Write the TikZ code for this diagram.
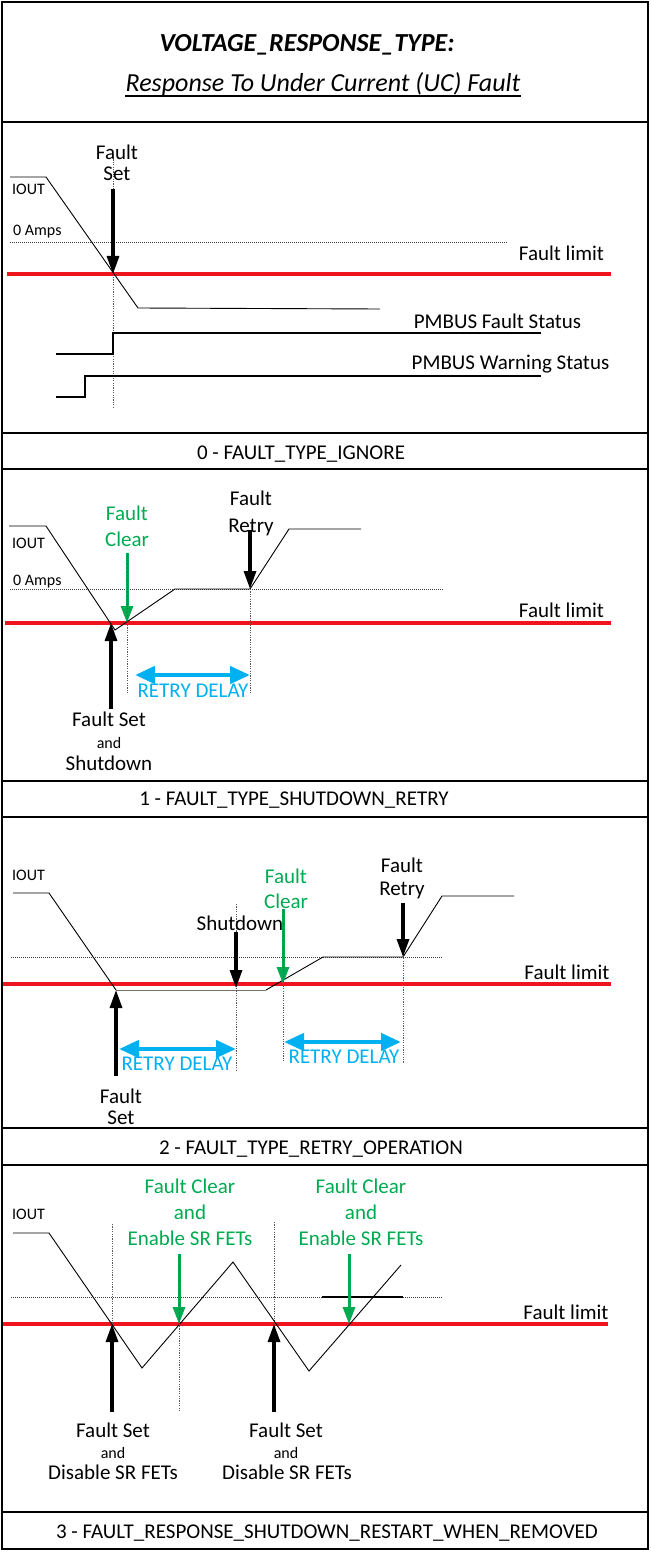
\documentclass[tikz,border=0pt]{standalone}
\usepackage{fontspec}
\setmainfont{Carlito}
\usetikzlibrary{arrows.meta}
\definecolor{limitred}{RGB}{240,20,30}
\definecolor{clrgreen}{RGB}{0,170,80}
\definecolor{delaycyan}{RGB}{0,176,240}
\begin{document}
\begin{tikzpicture}[x=1pt,y=-1pt,
  frame/.style={line width=2.4pt},
  limitline/.style={draw=limitred,line width=3.2pt},
  wave/.style={line width=0.9pt},
  zeroline/.style={line width=0.9pt,dash pattern=on 1pt off 1pt,draw=black!75},
  guide/.style={line width=0.8pt,dash pattern=on 1.2pt off 1.2pt,draw=black!65},
  statusline/.style={line width=1.8pt},
  evtarrow/.style={line width=3.2pt,-{Triangle[length=18pt,width=12pt]}},
  clrarrow/.style={line width=3pt,draw=clrgreen,-{Triangle[length=17pt,width=12pt]}},
  delayarrow/.style={line width=4.5pt,draw=delaycyan,{Triangle[length=20pt,width=17pt]}-{Triangle[length=20pt,width=17pt]}},
  lbl/.style={font=\fontsize{21}{25}\selectfont,inner sep=0pt,anchor=base},
  sml/.style={font=\fontsize{16}{19}\selectfont,inner sep=0pt,anchor=base},
  grn/.style={lbl,text=clrgreen},
  cyn/.style={lbl,text=delaycyan},
]
\useasboundingbox (0,0) rectangle (650,1554);

% ---------------- frame ----------------
\draw[frame] (2,2) rectangle (648,1549);
\foreach \yy in {122,433,469,781,817,1128,1165,1512}
  \draw[frame] (2,\yy) -- (648,\yy);

% ---------------- title ----------------
\node[lbl,font=\fontsize{26}{30}\selectfont\bfseries\itshape] (title) at (307,52) {VOLTAGE\_RESPONSE\_TYPE:};
\node[lbl,font=\fontsize{26}{30}\selectfont\itshape] (subtitle) at (323,92) {Response To Under Current (UC) Fault};
\draw[line width=1.2pt] ([yshift=-4pt]subtitle.base west) -- ([yshift=-4pt]subtitle.base east);

% ---------------- panel 0 ----------------
\coordinate (p0la) at (7,274);   \coordinate (p0lb) at (611,274);
\draw[limitline] (p0la) -- (p0lb);
\coordinate (p0za) at (10,242);  \coordinate (p0zb) at (507,242);
\draw[zeroline] (p0za) -- (p0zb);
\coordinate (p0ga) at (113,157); \coordinate (p0gb) at (113,407);
\draw[guide] (p0ga) -- (p0gb);
\draw[wave] (10,177) -- (46,177) -- (138,308) -- (380,309);
\draw[statusline] (56,354) -- (113,354) -- (113,333) -- (541,333);
\draw[statusline] (56,397) -- (85,397) -- (85,376) -- (541,376);
\node[sml,anchor=base west] (p0iout) at (12,195) {IOUT};
\node[sml,anchor=base west] (p0amps) at (13,236) {0 Amps};
\node[lbl] (p0fs1) at (117,160) {Fault};
\node[lbl] (p0fs2) at (117,181) {Set};
\coordinate (p0fsa) at (113,189); \coordinate (p0fsb) at (113,274);
\draw[evtarrow] (p0fsa) -- (p0fsb);
\node[lbl] (p0lim) at (561.5,261) {Fault limit};
\node[lbl] (p0pf) at (497.5,328) {PMBUS Fault Status};
\node[lbl] (p0pw) at (510.5,369) {PMBUS Warning Status};
\node[lbl] (p0name) at (301,459) {0 - FAULT\_TYPE\_IGNORE};

% ---------------- panel 1 ----------------
\coordinate (p1la) at (5,623);   \coordinate (p1lb) at (611,623);
\draw[limitline] (p1la) -- (p1lb);
\coordinate (p1za) at (10,589);  \coordinate (p1zb) at (443,589);
\draw[zeroline] (p1za) -- (p1zb);
\draw[wave] (9,526) -- (46,526) -- (115,630) -- (175,589) -- (250,589) -- (289,529) -- (361,529);
\node[sml,anchor=base west] (p1iout) at (12,548) {IOUT};
\node[sml,anchor=base west] (p1amps) at (13,585) {0 Amps};
\node[lbl] (p1lim) at (561.5,617) {Fault limit};
% fault clear
\node[grn] (p1fc1) at (127,520) {Fault};
\node[grn] (p1fc2) at (127,546) {Clear};
\coordinate (p1fca) at (127,553); \coordinate (p1fcb) at (127,623);
\draw[clrarrow] (p1fca) -- (p1fcb);
\coordinate (p1g1a) at (127,553); \coordinate (p1g1b) at (127,694);
\draw[guide] (p1g1a) -- (p1g1b);
% fault retry
\node[lbl] (p1fr1) at (251,505) {Fault};
\node[lbl] (p1fr2) at (251,532) {Retry};
\coordinate (p1fra) at (250,530); \coordinate (p1frb) at (250,589);
\draw[evtarrow] (p1fra) -- (p1frb);
\coordinate (p1g2a) at (250,589); \coordinate (p1g2b) at (250,694);
\draw[guide] (p1g2a) -- (p1g2b);
% fault set
\coordinate (p1fsa) at (111,709); \coordinate (p1fsb) at (111,623);
\draw[evtarrow] (p1fsa) -- (p1fsb);
\node[lbl] (p1fs1) at (109,726) {Fault Set};
\node[sml] (p1fs2) at (109,748) {and};
\node[lbl] (p1fs3) at (109,770) {Shutdown};
% retry delay
\coordinate (p1da) at (135,675); \coordinate (p1db) at (250,675);
\draw[delayarrow] (p1da) -- (p1db);
\node[cyn] (p1dl) at (193,697) {RETRY DELAY};
\node[lbl] (p1name) at (294,805) {1 - FAULT\_TYPE\_SHUTDOWN\_RETRY};

% ---------------- panel 2 ----------------
\coordinate (p2la) at (3,984);   \coordinate (p2lb) at (611,984);
\draw[limitline] (p2la) -- (p2lb);
\coordinate (p2za) at (11,957);  \coordinate (p2zb) at (443,957);
\draw[zeroline] (p2za) -- (p2zb);
\draw[wave] (13,893) -- (49,893) -- (116,990);
\draw[wave,draw=black!55] (116,990) -- (266,990);
\draw[wave] (266,990) -- (323,957) -- (403,957) -- (442,896) -- (514,896);
\node[sml,anchor=base west] (p2iout) at (12,880) {IOUT};
\node[lbl] (p2lim) at (567,979) {Fault limit};
% fault set
\coordinate (p2fsa) at (116,1076); \coordinate (p2fsb) at (116,990);
\draw[evtarrow] (p2fsa) -- (p2fsb);
\node[lbl] (p2fs1) at (121,1103) {Fault};
\node[lbl] (p2fs2) at (121,1124) {Set};
% shutdown
\coordinate (p2g1a) at (236,904); \coordinate (p2g1b) at (236,1071);
\draw[guide] (p2g1a) -- (p2g1b);
\node[lbl] (p2sd) at (240,930) {Shutdown};
\coordinate (p2sda) at (236,932); \coordinate (p2sdb) at (236,988);
\draw[evtarrow] (p2sda) -- (p2sdb);
\coordinate (p2d1a) at (119,1049); \coordinate (p2d1b) at (236,1049);
\draw[delayarrow] (p2d1a) -- (p2d1b);
\node[cyn] (p2dl1) at (177,1070) {RETRY DELAY};
% fault clear
\node[grn] (p2fc1) at (286,883) {Fault};
\node[grn] (p2fc2) at (286,908) {Clear};
\coordinate (p2fca) at (283,909); \coordinate (p2fcb) at (283,984);
\draw[clrarrow] (p2fca) -- (p2fcb);
\coordinate (p2g2a) at (283,909); \coordinate (p2g2b) at (283,1062);
\draw[guide] (p2g2a) -- (p2g2b);
\coordinate (p2d2a) at (284,1042); \coordinate (p2d2b) at (401,1042);
\draw[delayarrow] (p2d2a) -- (p2d2b);
\node[cyn] (p2dl2) at (344,1063) {RETRY DELAY};
% fault retry
\coordinate (p2g3a) at (403,903); \coordinate (p2g3b) at (403,1063);
\draw[guide] (p2g3a) -- (p2g3b);
\node[lbl] (p2fr1) at (402,872) {Fault};
\node[lbl] (p2fr2) at (402,895) {Retry};
\coordinate (p2fra) at (403,903); \coordinate (p2frb) at (403,957);
\draw[evtarrow] (p2fra) -- (p2frb);
\node[lbl] (p2name) at (311,1154) {2 - FAULT\_TYPE\_RETRY\_OPERATION};

% ---------------- panel 3 ----------------
\coordinate (p3la) at (3,1324);  \coordinate (p3lb) at (608,1324);
\draw[limitline] (p3la) -- (p3lb);
\coordinate (p3za) at (11,1297); \coordinate (p3zb) at (443,1297);
\draw[zeroline] (p3za) -- (p3zb);
\coordinate (p3sa) at (322,1297); \coordinate (p3sb) at (403,1297);
\draw[line width=1.3pt] (p3sa) -- (p3sb);
\coordinate (p3g1a) at (112,1224); \coordinate (p3g1b) at (112,1324);
\draw[guide] (p3g1a) -- (p3g1b);
\coordinate (p3g3a) at (274,1222); \coordinate (p3g3b) at (274,1324);
\draw[guide] (p3g3a) -- (p3g3b);
\draw[wave] (13,1233) -- (49,1233) -- (142,1368) -- (233,1262) -- (309,1371) -- (401,1265);
\node[sml,anchor=base west] (p3iout) at (12,1219) {IOUT};
\node[lbl] (p3lim) at (566,1319) {Fault limit};
% fault set 1
\coordinate (p3fsa) at (112,1412); \coordinate (p3fsb) at (112,1324);
\draw[evtarrow] (p3fsa) -- (p3fsb);
\node[lbl] (p3fs1) at (113,1437) {Fault Set};
\node[sml] (p3fs2) at (113,1458) {and};
\node[lbl] (p3fs3) at (113,1479) {Disable SR FETs};
% fault set 2
\coordinate (p3ssa) at (274,1412); \coordinate (p3ssb) at (274,1324);
\draw[evtarrow] (p3ssa) -- (p3ssb);
\node[lbl] (p3ss1) at (286,1437) {Fault Set};
\node[sml] (p3ss2) at (286,1458) {and};
\node[lbl] (p3ss3) at (287,1479) {Disable SR FETs};
% fault clear 1
\node[grn] (p3fc1) at (190,1193) {Fault Clear};
\node[grn] (p3fc2) at (190,1219) {and};
\node[grn] (p3fc3) at (190,1245) {Enable SR FETs};
\coordinate (p3fca) at (179,1254); \coordinate (p3fcb) at (179,1324);
\draw[clrarrow] (p3fca) -- (p3fcb);
\coordinate (p3g2a) at (179,1254); \coordinate (p3g2b) at (179,1411);
\draw[guide] (p3g2a) -- (p3g2b);
% fault clear 2
\node[grn] (p3cc1) at (361,1193) {Fault Clear};
\node[grn] (p3cc2) at (361,1219) {and};
\node[grn] (p3cc3) at (361,1245) {Enable SR FETs};
\coordinate (p3cca) at (349,1254); \coordinate (p3ccb) at (349,1324);
\draw[clrarrow] (p3cca) -- (p3ccb);
\node[lbl] (p3name) at (327,1538) {3 - FAULT\_RESPONSE\_SHUTDOWN\_RESTART\_WHEN\_REMOVED};
\end{tikzpicture}
\end{document}
